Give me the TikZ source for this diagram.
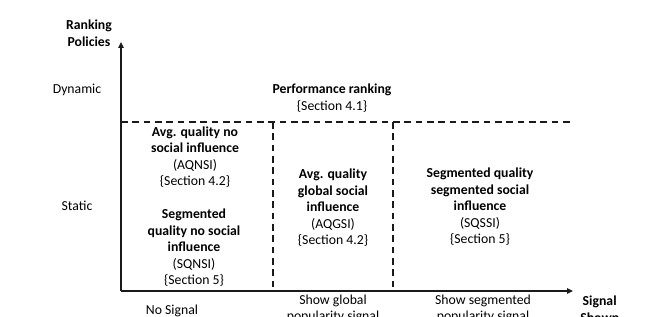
\documentclass[tikz,border=0pt]{standalone}
\usepackage{fontspec}
\setmainfont{Carlito}
\usepackage{tikz}
\usetikzlibrary{arrows.meta, positioning}
\definecolor{colAxis}{HTML}{1A1A1A}
\tikzset{
  axisarr/.style={
    -{Triangle[length=4.5pt,width=4pt]},
    line width=1.4pt, draw=colAxis
  },
  cellsep/.style={
    dashed, dash pattern=on 5pt off 3.5pt,
    line width=1.1pt, draw=colAxis
  },
  cell/.style={
    align=center, inner sep=0pt,
    font=\fontsize{10.3}{12.4}\selectfont
  },
  axlabel/.style={cell},
  axtitle/.style={cell, font=\fontsize{10.3}{12.4}\selectfont\bfseries}
}

\begin{document}
\begin{tikzpicture}[x=0.75pt, y=-0.75pt]
  \useasboundingbox (0,0) rectangle (667,317);
  % axes
  \coordinate (origin) at (121,291);
  \coordinate (ytop)   at (121,42);
  \coordinate (xend)   at (573,291);
  \draw[axisarr] (origin) -- (ytop);
  \draw[axisarr] (origin) -- (xend);
  % cell borders
  \coordinate (dynl) at (121,122);
  \coordinate (dynr) at (572,122);
  \coordinate (gtop) at (273,122);  \coordinate (gbot) at (273,291);
  \coordinate (stop) at (393,122);  \coordinate (sbot) at (393,291);
  \draw[cellsep] (dynl) -- (dynr);
  \draw[cellsep] (gtop) -- (gbot);
  \draw[cellsep] (stop) -- (sbot);
  % axis titles and ticks
  \node[axtitle] (ytitle) at (89,33) {Ranking\\Policies};
  \node[axtitle, anchor=west] (xtitle) at (580,309) {Signal\\Shown};
  \node[axlabel] (dyn)  at (77,90)  {Dynamic};
  \node[axlabel] (stat) at (77,206) {Static};
  \node[axlabel] (nosig)  at (172,311) {No Signal};
  \node[axlabel] (glosig) at (333,309) {Show global\\popularity signal};
  \node[axlabel] (segsig) at (483,309) {Show segmented\\popularity signal};
  % policies
  \node[cell] (perf) at (332,98) {\textbf{Performance ranking}\\\{Section 4.1\}};
  \node[cell] (aqnsi) at (195,157) {\textbf{Avg. quality no}\\\textbf{social influence}\\(AQNSI)\\\{Section 4.2\}};
  \node[cell] (sqnsi) at (194,248) {\textbf{Segmented}\\\textbf{quality no social}\\\textbf{influence}\\(SQNSI)\\\{Section 5\}};
  \node[cell] (aqgsi) at (333,208) {\textbf{Avg. quality}\\\textbf{global social}\\\textbf{influence}\\(AQGSI)\\\{Section 4.2\}};
  \node[cell] (sqssi) at (480,207) {\textbf{Segmented quality}\\\textbf{segmented social}\\\textbf{influence}\\(SQSSI)\\\{Section 5\}};
\end{tikzpicture}
\end{document}
